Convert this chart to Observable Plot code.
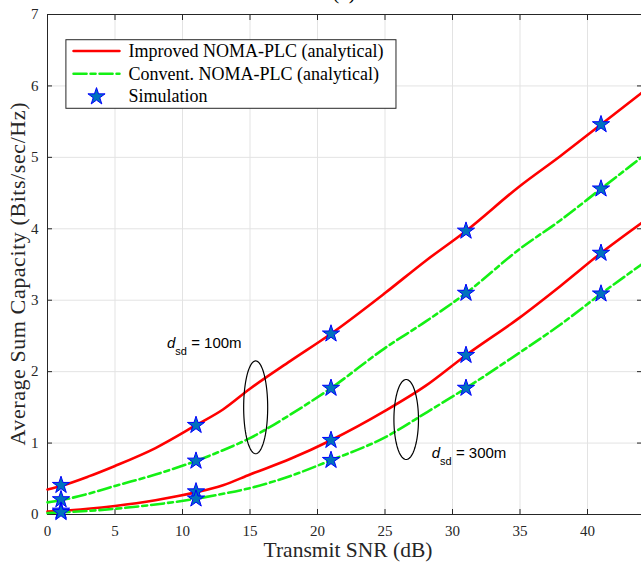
<!DOCTYPE html>
<html><head><meta charset="utf-8">
<script src="https://cdn.jsdelivr.net/npm/d3@7"></script>
<script src="https://cdn.jsdelivr.net/npm/@observablehq/plot@0.6"></script>
<style>
body{margin:0;background:#fff}
#chart svg{overflow:hidden}
</style>
</head><body><div id="chart"></div>
<script>
// Analytical curves (Transmit SNR in dB)
const snr =            [0,    1,    3,    5,    8,    11,   13,   15,   18,   21,   25,   28,   31,   35,   38,   41,   44];
const improved100 =    [0.35, 0.40, 0.53, 0.68, 0.93, 1.25, 1.47, 1.76, 2.15, 2.53, 3.10, 3.55, 3.97, 4.60, 5.02, 5.46, 5.90];
const convent100 =     [0.17, 0.20, 0.29, 0.40, 0.56, 0.75, 0.90, 1.07, 1.40, 1.77, 2.33, 2.70, 3.10, 3.72, 4.12, 4.56, 5.00];
const improved300 =    [0.04, 0.05, 0.08, 0.12, 0.20, 0.31, 0.41, 0.56, 0.78, 1.04, 1.45, 1.80, 2.23, 2.76, 3.20, 3.66, 4.08];
const convent300 =     [0.02, 0.03, 0.05, 0.08, 0.14, 0.22, 0.29, 0.37, 0.54, 0.76, 1.08, 1.42, 1.77, 2.27, 2.66, 3.09, 3.50];

// Simulation points
const simSnr =         [1, 11, 21, 31, 41];
const simImproved100 = [0.41, 1.25, 2.53, 3.97, 5.46];
const simConvent100 =  [0.21, 0.75, 1.77, 3.10, 4.56];
const simImproved300 = [0.05, 0.32, 1.04, 2.23, 3.66];
const simConvent300 =  [0.03, 0.22, 0.76, 1.77, 3.09];

const xTicks = [0, 5, 10, 15, 20, 25, 30, 35, 40];
const yTicks = [0, 1, 2, 3, 4, 5, 6, 7];

const legendLabels = ["Improved NOMA-PLC (analytical)", "Convent. NOMA-PLC (analytical)", "Simulation"];
const title = "(a)";
const xLabel = "Transmit SNR (dB)";
const yLabel = "Average Sum Capacity (Bits/sec/Hz)";

const RED = "#ff0000", GREEN = "#14f014", STAR_FILL = "#0072bd", STAR_EDGE = "#0000ff", AX = "#262626";
const DASH = "13,4,5,4";
const serif = "'Liberation Serif','Times New Roman',serif";
const sans = "'Liberation Sans',Arial,sans-serif";

const toRows = (xs, ys) => xs.map((x, i) => ({x, y: ys[i]}));
const ellipse = (cx, cy, rx, ry) => d3.range(0, 361, 4).map(a => ({x: cx + rx * Math.cos(a * Math.PI / 180), y: cy + ry * Math.sin(a * Math.PI / 180)}));

const sims = [...toRows(simSnr, simImproved100), ...toRows(simSnr, simConvent100), ...toRows(simSnr, simImproved300), ...toRows(simSnr, simConvent300)];

// legend layout (in data units)
const lg = {x1: 1.4, x2: 25.85, y1: 5.68, y2: 6.64, rows: [6.49, 6.17, 5.85], s1: 1.93, s2: 5.33, tx: 6.0};

const plot = Plot.plot({
  width: 641, height: 565,
  marginLeft: 47, marginRight: 0, marginTop: 14, marginBottom: 51,
  x: {domain: [0, 44]},
  y: {domain: [0, 7]},
  style: {fontFamily: serif, fontSize: "15px", color: AX, background: "white"},
  marks: [
    Plot.gridX(xTicks, {stroke: "#e3e3e3", strokeOpacity: 1}),
    Plot.gridY(yTicks, {stroke: "#e3e3e3", strokeOpacity: 1}),
    Plot.ruleY([0, 7], {stroke: AX}),
    Plot.ruleX([0], {stroke: AX}),
    // labels
    Plot.axisX({anchor: "bottom", ticks: xTicks, tickSize: 0, tickPadding: 11, tickFormat: "d", label: null, fontSize: 15}),
    Plot.axisY({anchor: "left", ticks: yTicks, tickSize: 0, tickPadding: 9, tickFormat: "d", label: null, fontSize: 15}),
    // inward ticks
    Plot.axisX({anchor: "bottom", ticks: xTicks, tickSize: -5, tickFormat: () => "", label: null}),
    Plot.axisX({anchor: "top", ticks: xTicks, tickSize: -5, tickFormat: () => "", label: null}),
    Plot.axisY({anchor: "left", ticks: yTicks, tickSize: -5, tickFormat: () => "", label: null}),
    Plot.axisY({anchor: "right", ticks: yTicks, tickSize: -5, tickFormat: () => "", label: null}),
    Plot.line(toRows(snr, improved100), {x: "x", y: "y", stroke: RED, strokeWidth: 2.6, curve: "monotone-x"}),
    Plot.line(toRows(snr, convent100), {x: "x", y: "y", stroke: GREEN, strokeWidth: 2.6, strokeDasharray: DASH, curve: "monotone-x"}),
    Plot.line(toRows(snr, improved300), {x: "x", y: "y", stroke: RED, strokeWidth: 2.6, curve: "monotone-x"}),
    Plot.line(toRows(snr, convent300), {x: "x", y: "y", stroke: GREEN, strokeWidth: 2.6, strokeDasharray: DASH, curve: "monotone-x"}),
    Plot.dot(sims, {x: "x", y: "y", symbol: "star", r: 5.4, fill: STAR_FILL, stroke: STAR_EDGE, strokeWidth: 1}),
    Plot.line(ellipse(15.42, 1.50, 0.89, 0.65), {x: "x", y: "y", stroke: "black", strokeWidth: 1.2}),
    Plot.line(ellipse(26.57, 1.33, 0.91, 0.56), {x: "x", y: "y", stroke: "black", strokeWidth: 1.2}),
    // legend
    Plot.rect([0], {x1: () => lg.x1, x2: () => lg.x2, y1: () => lg.y1, y2: () => lg.y2, fill: "white", stroke: AX, strokeWidth: 1}),
    Plot.line([{x: lg.s1, y: lg.rows[0]}, {x: lg.s2, y: lg.rows[0]}], {x: "x", y: "y", stroke: RED, strokeWidth: 2.6}),
    Plot.line([{x: lg.s1, y: lg.rows[1]}, {x: lg.s2, y: lg.rows[1]}], {x: "x", y: "y", stroke: GREEN, strokeWidth: 2.6, strokeDasharray: DASH}),
    Plot.dot([{x: (lg.s1 + lg.s2) / 2, y: lg.rows[2]}], {x: "x", y: "y", symbol: "star", r: 5.4, fill: STAR_FILL, stroke: STAR_EDGE, strokeWidth: 1}),
    Plot.text(legendLabels.map((t, i) => ({t, y: lg.rows[i]})), {x: () => lg.tx, y: "y", text: "t", textAnchor: "start", fontSize: 18, fontFamily: serif, fill: "black"})
  ]
});

const sx = plot.scale("x"), sy = plot.scale("y");
const svg = d3.select(plot);

// title (cut off at the top edge, as in the reference)
svg.append("text").attr("x", sx.apply(22)).attr("y", -1).attr("text-anchor", "middle")
  .attr("font-family", serif).attr("font-size", 21).attr("fill", "black").text(title);

// axis labels
svg.append("text").attr("x", 348).attr("y", 557).attr("text-anchor", "middle")
  .attr("font-family", serif).attr("font-size", 21.5).attr("fill", AX).text(xLabel);
svg.append("text").attr("transform", "translate(25,274) rotate(-90)").attr("text-anchor", "middle")
  .attr("font-family", serif).attr("font-size", 22).attr("textLength", 343).attr("lengthAdjust", "spacing")
  .attr("fill", AX).text(yLabel);

// annotations with subscript
function annot(xv, yv, rest) {
  const t = svg.append("text")
    .attr("x", sx.apply(xv)).attr("y", sy.apply(yv)).attr("text-anchor", "start")
    .attr("font-family", sans).attr("font-size", 15).attr("fill", "black");
  t.append("tspan").attr("font-style", "italic").text("d");
  t.append("tspan").attr("font-size", 11).attr("dy", 7).text("sd");
  t.append("tspan").attr("dy", -7).text(" = " + rest);
}
annot(8.89, 2.32, "100m");
annot(28.5, 0.78, "300m");

document.getElementById("chart").append(plot);
</script>
</body></html>
